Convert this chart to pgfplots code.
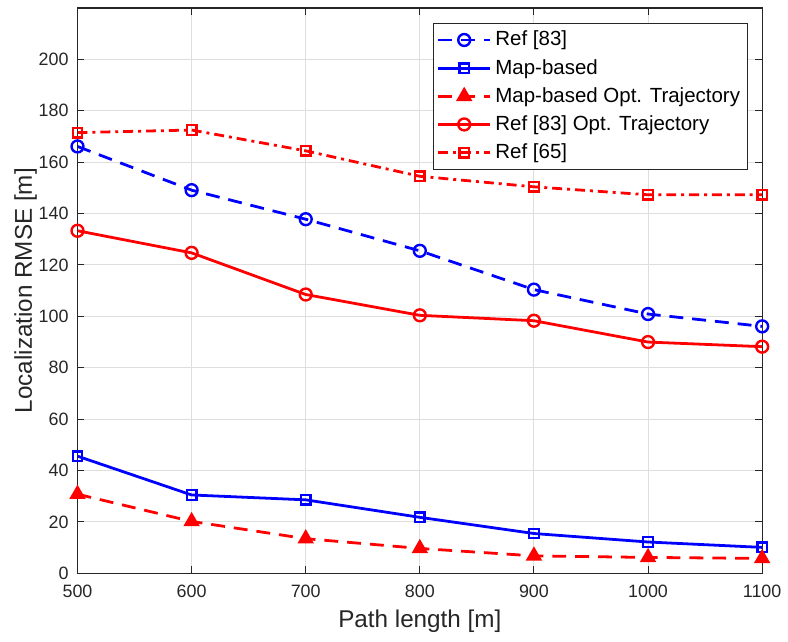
\documentclass[border=0pt]{standalone}
\usepackage{pgfplots}
\pgfplotsset{compat=1.18}
\usepackage{fontspec}
\setmainfont{Liberation Sans}
\definecolor{axgray}{RGB}{38,38,38}
\definecolor{gridgray}{RGB}{222,222,222}
\begin{document}
\begin{tikzpicture}
\begin{axis}[
  name=ax,
  scale only axis,
  width=344.5pt, height=284.5pt,
  xmin=500, xmax=1100, ymin=0, ymax=220,
  xtick={500,600,...,1100}, ytick={0,20,...,200},
  /pgf/number format/assume math mode=true,
  /pgf/number format/set thousands separator={},
  tick label style={font=\fontsize{9}{11}\selectfont, color=axgray},
  xticklabel style={yshift=-2.5pt},
  yticklabel style={xshift=-1pt},
  xlabel={Path length [m]}, ylabel={Localization RMSE [m]},
  label style={font=\fontsize{12.2}{14}\selectfont, color=axgray},
  xlabel style={yshift=1pt},
  ylabel style={yshift=-6pt},
  grid=major,
  major grid style={gridgray, line width=0.5pt},
  axis line style={axgray, line width=0.6pt},
  tick style={axgray, line width=0.5pt},
  major tick length=3.5pt,
  tick align=inside,
  legend style={at={(0.98,0.974)}, anchor=north east, draw=axgray, line width=0.5pt,
    font=\fontsize{10.3}{12}\selectfont, inner sep=2pt, row sep=1.2pt,
    /tikz/every even column/.append style={column sep=1pt}},
  legend cell align=left,
  legend image code/.code={
    \draw[#1] (0pt,0pt) -- (13pt,0pt) -- (26pt,0pt);
    \draw[#1, solid] plot coordinates {(13pt,0pt)};
  },
]
\addplot[blue, line width=1.4pt, dash pattern=on 7pt off 4.5pt, mark=o, mark size=3pt, mark options={solid, fill=white, line width=1.2pt}]
  coordinates {(500,166.1) (600,149.1) (700,137.8) (800,125.5) (900,110.4) (1000,100.9) (1100,96.1)};
\addlegendentry{Ref [83]}
\addplot[blue, line width=1.4pt, mark=square, mark size=2.4pt, mark options={solid, fill=white, line width=1.2pt}]
  coordinates {(500,45.6) (600,30.5) (700,28.6) (800,21.8) (900,15.5) (1000,12.2) (1100,10.1)};
\addlegendentry{Map-based}
\addplot[red, line width=1.4pt, dash pattern=on 7pt off 4.5pt, mark=triangle*, mark size=3.8pt, mark options={solid, fill=red, line width=1pt}]
  coordinates {(500,30.8) (600,20.2) (700,13.5) (800,9.7) (900,6.8) (1000,6.2) (1100,5.8)};
\addlegendentry{Map-based Opt. Trajectory}
\addplot[red, line width=1.4pt, mark=o, mark size=3pt, mark options={solid, fill=white, line width=1.2pt}]
  coordinates {(500,133.3) (600,124.7) (700,108.5) (800,100.4) (900,98.3) (1000,90.0) (1100,88.2)};
\addlegendentry{Ref [83] Opt. Trajectory}
\addplot[red, line width=1.4pt, dash pattern=on 5pt off 2.5pt on 1.5pt off 2.5pt, mark=square, mark size=2.4pt, mark options={solid, fill=white, line width=1.2pt}]
  coordinates {(500,171.5) (600,172.5) (700,164.4) (800,154.5) (900,150.4) (1000,147.3) (1100,147.3)};
\addlegendentry{Ref [65]}
\end{axis}
\path (ax.south west) ++(-39pt,-34.5pt) coordinate (bl);
\path (ax.north east) ++(10.5pt,4pt) coordinate (tr);
\path (bl) rectangle (tr);
\end{tikzpicture}
\end{document}
